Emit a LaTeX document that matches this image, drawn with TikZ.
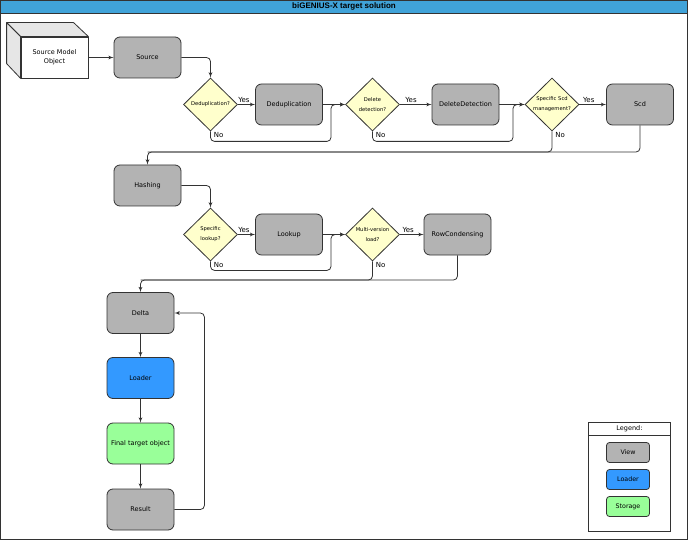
\documentclass[tikz,border=0pt]{standalone}
\usepackage{fontspec}
\setmainfont{DejaVu Sans}
\newfontfamily\titlefont{Liberation Sans}
\usetikzlibrary{arrows,shapes.geometric}

\definecolor{viewgray}{HTML}{B3B3B3}
\definecolor{loaderblue}{HTML}{3399FF}
\definecolor{storagegreen}{HTML}{99FF99}
\definecolor{askyellow}{HTML}{FFFFCC}
\definecolor{titleblue}{HTML}{40A3D9}
\definecolor{edgegray}{HTML}{333333}
\definecolor{sidegray}{HTML}{E6E6E6}

\begin{document}
\begin{tikzpicture}[x=1pt, y=-1pt, font=\fontsize{6.5}{8.6}\selectfont,
        view/.style = {draw=edgegray, fill=viewgray, rounded corners=6pt, minimum width=67pt, minimum height=41pt, inner sep=0pt, line width=0.8pt},
        loader/.style = {view, fill=loaderblue},
        storage/.style = {view, fill=storagegreen},
        cube/.style = {draw=edgegray, fill=white, minimum width=67pt, minimum height=41pt, inner sep=0pt, line width=0.8pt, align=center},
        cubeside/.style = {draw=edgegray, fill=sidegray, line width=0.8pt, line join=round},
        ask/.style = {draw=edgegray, fill=askyellow, diamond, aspect=1, minimum width=54pt, minimum height=53pt, inner sep=0pt, line width=0.8pt, align=center, font=\fontsize{5.2}{10}\selectfont},
        flow/.style = {-latex', draw=edgegray, line width=0.8pt, rounded corners=4pt},
        yes/.style = {above, inner sep=1.5pt, pos=0.35, font=\fontsize{7}{8}\selectfont},
        no/.style = {anchor=north west, inner sep=1pt, xshift=2pt, font=\fontsize{7}{8}\selectfont},
        key/.style = {view, minimum width=43pt, minimum height=20pt, rounded corners=3pt, font=\fontsize{6.3}{7}\selectfont}]
    \useasboundingbox (0,0) rectangle (688,540);
    \fill[white] (0,0) rectangle (688,540);
    \fill[titleblue] (0,0) rectangle (688,13);
    \draw[edgegray, line width=0.8pt] (0,13) -- (688,13);
    \draw[edgegray, line width=1pt] (0.5,0.5) rectangle (687.5,539.5);
    \node[font=\titlefont\bfseries\fontsize{8}{9}\selectfont] (title) at (344,6.5) {biGENIUS-X target solution};

    \node[cube] (smo) at (54.5,57.5) {Source Model\\Object};
    \filldraw[cubeside] (smo.north west) -- ++(-14,-14) -- ++(67,0) -- (smo.north east) -- cycle;
    \filldraw[cubeside] (smo.north west) -- ++(-14,-14) -- ++(0,41) -- (smo.south west) -- cycle;

    \node[view] (source) at (147.5,57.5) {Source};
    \node[ask] (dedupq) at (210.5,104.5) {Deduplication?};
    \node[view] (dedup) at (289,104.5) {Deduplication};
    \node[ask] (deleteq) at (372.5,104.5) {Delete\\detection?};
    \node[view] (delete) at (465.5,104.5) {DeleteDetection};
    \node[ask] (scdq) at (552,104.5) {Specific Scd\\management?};
    \node[view] (scd) at (640,104.5) {Scd};
    \node[view] (hashing) at (147.5,185.5) {Hashing};
    \node[ask] (lookupq) at (210.5,234.5) {Specific\\lookup?};
    \node[view] (lookup) at (289,234.5) {Lookup};
    \node[ask] (multiq) at (372.5,234.5) {Multi-version\\load?};
    \node[view] (rowcond) at (457.5,234.5) {RowCondensing};
    \node[view] (delta) at (140.5,313) {Delta};
    \node[loader] (loader) at (140.5,378) {Loader};
    \node[storage] (final) at (140.5,443.5) {Final target object};
    \node[view] (result) at (140.5,509.5) {Result};

    \coordinate (jd) at (331,104.5);
    \coordinate (js) at (513,104.5);
    \coordinate (mh) at (147.5,152);
    \coordinate (jm) at (331,234.5);
    \coordinate (md) at (140.5,280);

    \draw[flow] (smo) -- (source);
    \draw[flow] (source) -| (dedupq);
    \draw[flow] (dedupq) -- node[yes] {Yes} (dedup);
    \draw[flow] (dedup) -- (deleteq);
    \draw[flow] (dedupq.south) node[no] {No} -- ++(0,10) -| (jd) -- (deleteq.west);
    \draw[flow] (deleteq) -- node[yes] {Yes} (delete);
    \draw[flow] (delete) -- (scdq);
    \draw[flow] (deleteq.south) node[no] {No} -- ++(0,10) -| (js) -- (scdq.west);
    \draw[flow] (scdq) -- node[yes] {Yes} (scd);
    \draw[flow] (scd.south) |- (mh) -- (hashing.north);
    \draw[flow, -] (scdq.south) node[no] {No} |- (mh);

    \draw[flow] (hashing) -| (lookupq);
    \draw[flow] (lookupq) -- node[yes] {Yes} (lookup);
    \draw[flow] (lookup) -- (multiq);
    \draw[flow] (lookupq.south) node[no] {No} -- ++(0,9) -| (jm) -- (multiq.west);
    \draw[flow] (multiq) -- node[yes] {Yes} (rowcond);
    \draw[flow] (rowcond.south) |- (md) -- (delta.north);
    \draw[flow, -] (multiq.south) node[no] {No} |- (md);

    \draw[flow] (delta) -- (loader);
    \draw[flow] (loader) -- (final);
    \draw[flow] (final) -- (result);
    \draw[flow] (result.east) -- ++(30,0) |- (delta.east);

    \node[draw=edgegray, fill=white, minimum width=82pt, minimum height=109pt, inner sep=0pt] (legend) at (629.5,476.5) {};
    \draw[edgegray] (legend.west |- 0,435) -- (legend.east |- 0,435);
    \node[font=\fontsize{6.5}{7.5}\selectfont] (legendtitle) at (629.5,428.5) {Legend:};
    \node[key] (keyview) at (628,452.5) {View};
    \node[key, fill=loaderblue] (keyloader) at (628,479.5) {Loader};
    \node[key, fill=storagegreen] (keystorage) at (628,506.5) {Storage};
\end{tikzpicture}
\end{document}
